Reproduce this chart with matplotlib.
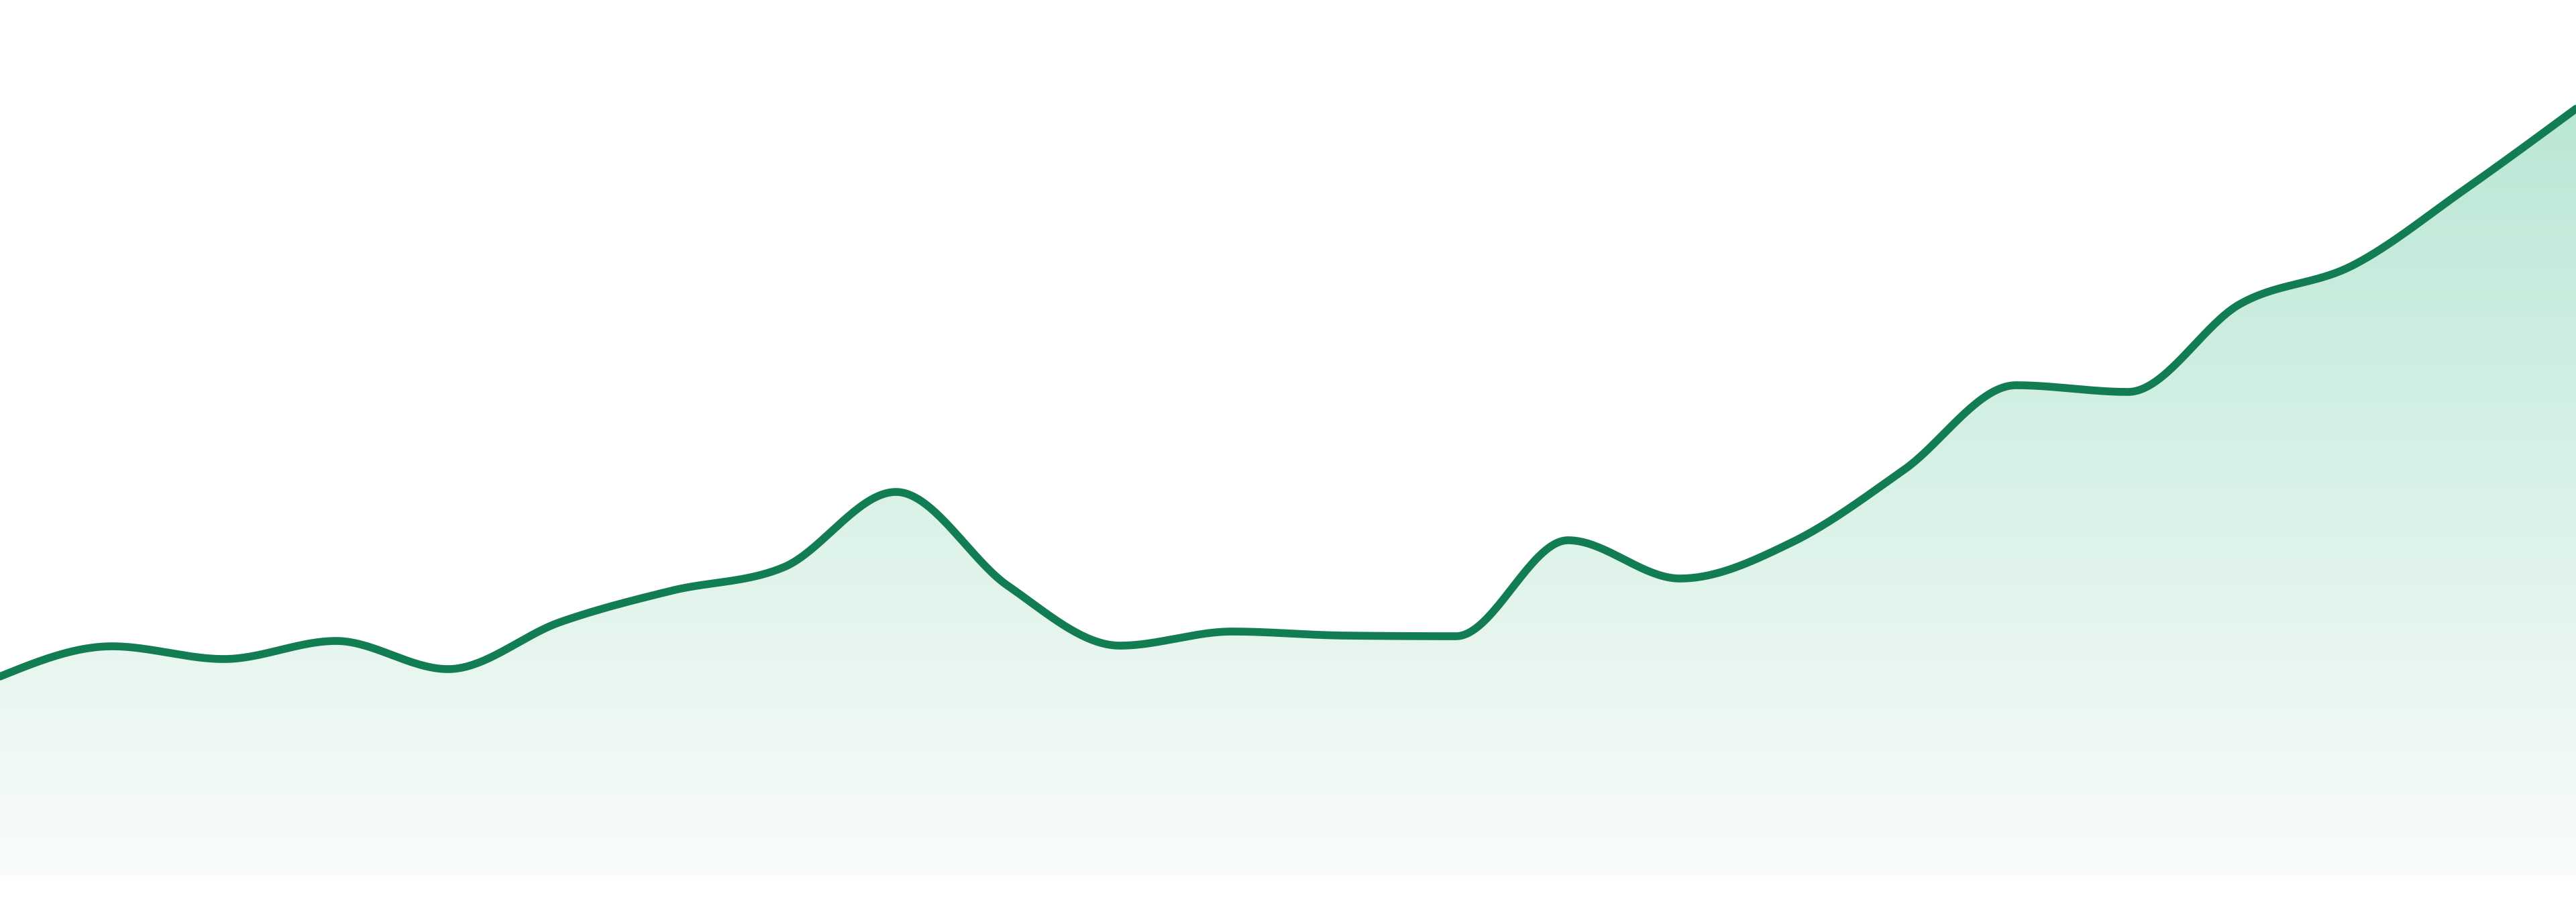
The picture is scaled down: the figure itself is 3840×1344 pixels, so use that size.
import matplotlib
matplotlib.use("Agg")
import matplotlib.pyplot as plt
import numpy as np
from matplotlib.colors import LinearSegmentedColormap

# values, one per step
steps = list(range(24))
values = [29.7, 34.2, 32.3, 35.0, 30.8, 37.8, 42.5, 46.0, 57.2, 43.2, 34.3, 36.4,
          35.8, 35.7, 50.0, 44.3, 49.7, 60.5, 73.1, 72.1, 85.2, 90.9, 102.2, 114.3]

line_color = "#127d52"
fill_top = (186 / 255, 231 / 255, 213 / 255)
fill_bottom = (249 / 255, 252 / 255, 250 / 255)


def monotone_curve(x, y, per_seg=40):
    # monotone cubic (Steffen) like d3.curveMonotoneX
    x = np.asarray(x, float)
    y = np.asarray(y, float)
    h = np.diff(x)
    s = np.diff(y) / h
    m = np.zeros_like(y)
    for i in range(1, len(y) - 1):
        p = (s[i - 1] * h[i] + s[i] * h[i - 1]) / (h[i - 1] + h[i])
        m[i] = (np.sign(s[i - 1]) + np.sign(s[i])) * min(abs(s[i - 1]), abs(s[i]), 0.5 * abs(p))
    m[0] = (3 * s[0] - m[1]) / 2
    m[-1] = (3 * s[-1] - m[-2]) / 2
    xs, ys = [], []
    for i in range(len(h)):
        t = np.linspace(0, 1, per_seg, endpoint=False)
        h00 = 2 * t**3 - 3 * t**2 + 1
        h10 = t**3 - 2 * t**2 + t
        h01 = -2 * t**3 + 3 * t**2
        h11 = t**3 - t**2
        xs.append(x[i] + t * h[i])
        ys.append(h00 * y[i] + h10 * h[i] * m[i] + h01 * y[i + 1] + h11 * h[i] * m[i + 1])
    xs.append([x[-1]])
    ys.append([y[-1]])
    return np.concatenate(xs), np.concatenate(ys)


cx, cy = monotone_curve(steps, values)

fig = plt.figure(figsize=(19.2, 6.72), dpi=200)
ax = fig.add_axes([0, 39 / 1344, 1, 1 - 39 / 1344])
ax.set_xlim(steps[0], steps[-1])
ax.set_ylim(0, 130.5)
ax.axis("off")

area = ax.fill_between(cx, cy, 0, facecolor="none", edgecolor="none")
cmap = LinearSegmentedColormap.from_list("fade", [fill_bottom, fill_top])
grad = np.linspace(0, 1, 256).reshape(-1, 1)
img = ax.imshow(grad, cmap=cmap, origin="lower", aspect="auto",
                extent=[steps[0], steps[-1], 0, max(values)], zorder=1)
img.set_clip_path(area.get_paths()[0], transform=ax.transData)

ax.plot(cx, cy, color=line_color, lw=4.2, solid_capstyle="round", zorder=2)

fig.savefig("out.png", dpi=200, facecolor="white")
